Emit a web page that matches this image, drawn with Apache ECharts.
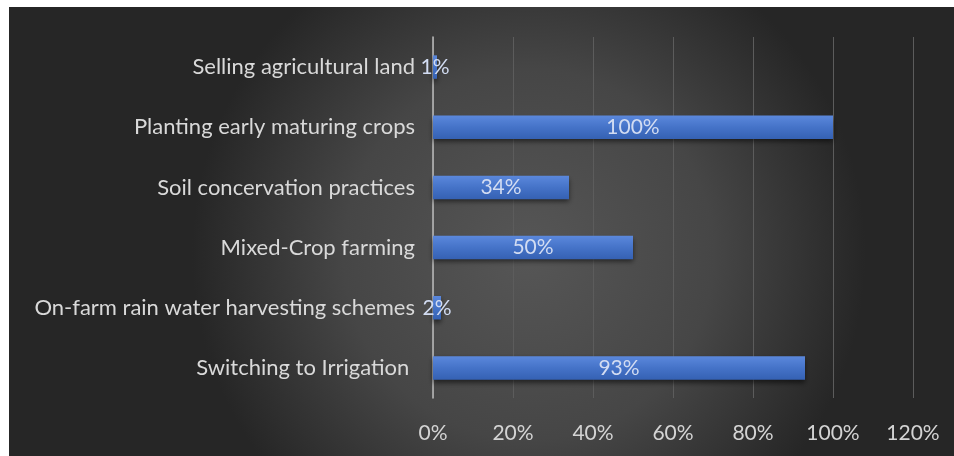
<!DOCTYPE html>
<html>
<head>
<meta charset="utf-8">
<script src="https://cdn.jsdelivr.net/npm/echarts@6/dist/echarts.min.js"></script>
<style>
  html, body { margin: 0; padding: 0; background: #ffffff; }
  #chart { position: absolute; left: 9px; top: 7px; width: 945px; height: 449px; }
</style>
</head>
<body>
<div id="chart"></div>
<script>
// Adaptation strategies and share of respondents (%), listed bottom to top
const strategies = [
  'Switching to Irrigation ',
  'On-farm rain water harvesting schemes',
  'Mixed-Crop farming',
  'Soil concervation practices',
  'Planting early maturing crops',
  'Selling agricultural land'
];
const shares = [93, 2, 50, 34, 100, 1];
const axisTicks = [0, 20, 40, 60, 80, 100, 120];

const FONT = 'Lato, "Open Sans", sans-serif';

const chart = echarts.init(document.getElementById('chart'), null, { renderer: 'canvas' });

chart.setOption({
  animation: false,
  backgroundColor: {
    type: 'radial', x: 0.55, y: 0.55, r: 0.75,
    colorStops: [
      { offset: 0, color: '#565656' },
      { offset: 0.55, color: '#464646' },
      { offset: 1, color: '#262626' }
    ]
  },
  grid: { left: 424, right: 41, top: 30, bottom: 58, containLabel: false },
  xAxis: {
    type: 'value',
    min: axisTicks[0],
    max: axisTicks[axisTicks.length - 1],
    interval: axisTicks[1] - axisTicks[0],
    axisLine: { show: false },
    axisTick: { show: false },
    splitLine: { show: true, lineStyle: { color: '#5c5c5c', width: 1 } },
    axisLabel: {
      color: '#d4d4d4', fontFamily: FONT, fontSize: 21, margin: 25,
      formatter: v => v + '%'
    }
  },
  yAxis: {
    type: 'category',
    data: strategies,
    axisLine: { show: true, lineStyle: { color: '#bdbdbd', width: 1.5 } },
    axisTick: { show: false },
    axisLabel: { color: '#d9d9d9', fontFamily: FONT, fontSize: 22, margin: 18 }
  },
  series: [{
    type: 'bar',
    data: shares,
    barWidth: '39%',
    itemStyle: {
      color: {
        type: 'linear', x: 0, y: 0, x2: 0, y2: 1,
        colorStops: [
          { offset: 0, color: '#5b88dc' },
          { offset: 0.5, color: '#4573c8' },
          { offset: 1, color: '#3561b3' }
        ]
      },
      shadowColor: 'rgba(0,0,0,0.55)',
      shadowBlur: 5,
      shadowOffsetY: 3
    },
    label: {
      show: true,
      position: 'inside',
      color: '#d2dcf2',
      fontFamily: FONT,
      fontSize: 21,
      formatter: p => p.value + '%'
    }
  }]
});
</script>
</body>
</html>
